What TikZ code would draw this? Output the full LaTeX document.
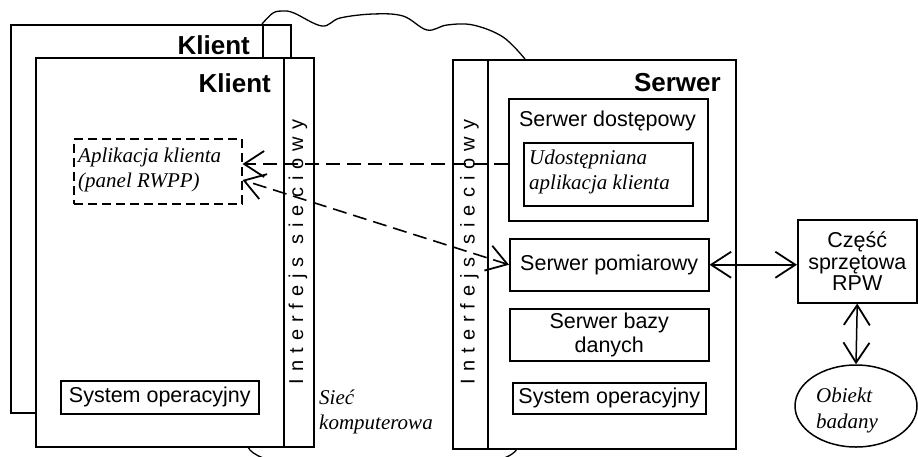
\documentclass[tikz,border=0pt]{standalone}
\usepackage{fontspec}
\setmainfont{Liberation Serif}
\setsansfont{Liberation Sans}
\newfontfamily\spacedsans{Liberation Sans}[LetterSpace=35]
\usetikzlibrary{arrows.meta,shapes.geometric}

\begin{document}
\begin{tikzpicture}[x=1pt,y=-1pt,
  box/.style={draw, line width=1.5pt, inner sep=0pt, anchor=north west, fill=white},
  dbox/.style={box, dash pattern=on 9pt off 5pt},
  sf/.style={font=\sffamily\fontsize{21.5}{24}\selectfont, inner sep=0pt, align=center},
  it/.style={font=\itshape\fontsize{21}{24.5}\selectfont, inner sep=0pt, align=left},
  title/.style={font=\sffamily\bfseries\fontsize{26}{28}\selectfont, inner sep=0pt, anchor=east},
  iface/.style={font=\spacedsans\fontsize{20}{22}\selectfont, inner sep=0pt, rotate=90},
  vhead/.tip={Straight Barb[length=20pt,width=26pt,line width=1.8pt]},
  solidlink/.style={line width=1.5pt, vhead-vhead},
  dashlink/.style={line width=1.6pt, dash pattern=on 14pt off 7pt},
  net/.style={line width=1.3pt}]

\useasboundingbox (0,0) rectangle (918,456);

% network "cloud" boundary between client and server
\begin{scope}
\clip (0,0) rectangle (918,456);
\draw[net] plot[smooth, tension=0.6] coordinates {(262,24) (273,13) (283,11) (294,13) (322,26)
  (340,18) (373,14) (403,16) (427,30) (447,25) (473,25) (503,37) (525,59)};
\draw[net] (248,447) .. controls (262,480) and (500,480) .. (517,449);
\end{scope}

% second client (behind)
\node[box, minimum width=280pt, minimum height=388pt] (back) at (10,24) {};
\node[box, minimum width=28pt, minimum height=33pt] (backif) at (262,24) {};
\node[title] (backtitle) at (250,45) {Klient};

% client
\node[box, minimum width=248pt, minimum height=389pt] (client) at (35,57) {};
\node[box, minimum width=30pt, minimum height=389pt] (cif) at (283,57) {};
\node[title] (ctitle) at (271,83) {Klient};
\node[dbox, minimum width=168pt, minimum height=65pt] (app) at (73,138) {};
\node[it, anchor=west] (apptext) at (78,170) {Aplikacja klienta\\(panel RWPP)};
\node[box, minimum width=198pt, minimum height=33pt, sf] (cos) at (60,380) {System operacyjny};
\node[iface] (ciftext) at (298,252) {Interfejs sieciowy};

% network label
\node[it, anchor=north west] (net) at (319,390) {Sieć\\komputerowa};

% server
\node[box, minimum width=35pt, minimum height=389pt] (sif) at (452,59) {};
\node[box, minimum width=248pt, minimum height=389pt] (server) at (487,59) {};
\node[title] (stitle) at (721,83) {Serwer};
\node[iface] (siftext) at (469.5,252) {Interfejs sieciowy};
\node[box, minimum width=199pt, minimum height=122pt] (dost) at (508,98) {};
\node[sf] (dosttext) at (607.5,121) {Serwer dostępowy};
\node[box, minimum width=169pt, minimum height=63pt] (udost) at (523,142) {};
\node[it, anchor=west] (udosttext) at (529,172) {Udostępniana\\aplikacja klienta};
\node[box, minimum width=199pt, minimum height=52pt, sf] (pom) at (509,238) {Serwer pomiarowy};
\node[box, minimum width=199pt, minimum height=52pt, sf] (baza) at (509,308) {Serwer bazy\\danych};
\node[box, minimum width=193pt, minimum height=31pt, sf] (sos) at (512,382) {System operacyjny};

% measurement hardware and object
\node[box, minimum width=119pt, minimum height=83pt, sf,
      font=\sffamily\fontsize{21.5}{21.5}\selectfont] (rpw) at (797,219) {Część\\sprzętowa\\RPW};
\node[draw, ellipse, line width=1.5pt, minimum width=122pt, minimum height=82pt, inner sep=0pt] (obj) at (856,406) {};
\node[it, anchor=west, font=\itshape\fontsize{21}{26}\selectfont] (objtext) at (816,410) {Obiekt\\badany};

% connections
\coordinate (hline) at (0,164);
\coordinate (dline) at (0,180);
\draw[dashlink, -vhead] (dost.west |- hline) -- (app.east |- hline);
\draw[dashlink, vhead-vhead] (pom.west) -- (app.east |- dline);
\draw[solidlink] (pom.east) -- (pom.east -| rpw.west);
\draw[solidlink] (rpw.south) -- (obj.north);
\end{tikzpicture}
\end{document}
